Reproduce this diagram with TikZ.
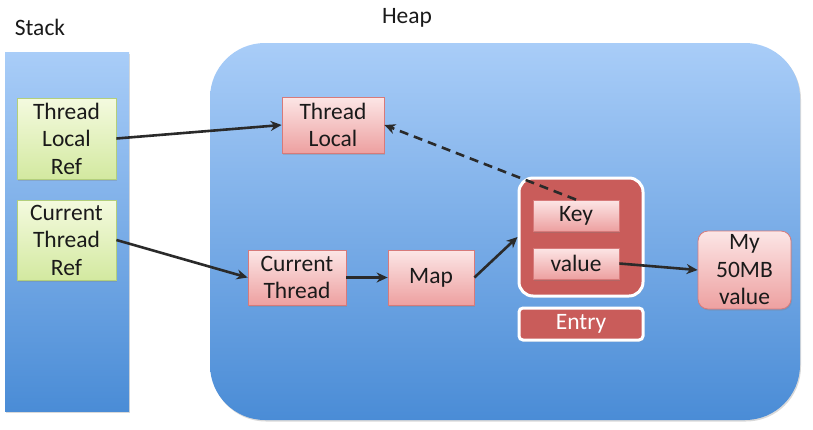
\documentclass[tikz,border=0pt]{standalone}
\usepackage{fontspec}
\setmainfont{Carlito}
\usetikzlibrary{arrows.meta,shadows}
\definecolor{bluetop}{HTML}{A9CDF8}
\definecolor{bluebot}{HTML}{4A8CD6}
\definecolor{greentop}{HTML}{F4FADF}
\definecolor{greenbot}{HTML}{D3E9A0}
\definecolor{greenbd}{HTML}{B3CF7C}
\definecolor{pinktop}{HTML}{FCE6E6}
\definecolor{pinkbot}{HTML}{EDA0A0}
\definecolor{pinkbd}{HTML}{D77A7A}
\definecolor{entryc}{HTML}{C95C5A}
\definecolor{arrowc}{HTML}{2A2A2A}
\definecolor{textc}{HTML}{1A1A1A}
\begin{document}
\begin{tikzpicture}[x=1pt,y=-1pt,
  txt/.style={font=\fontsize{23.5}{27.5}\selectfont, text=textc, align=center, inner sep=0pt},
  shad/.style={drop shadow={shadow xshift=1pt, shadow yshift=-1.5pt, opacity=0.3}},
  bluebox/.style={top color=bluetop, bottom color=bluebot, draw=none, inner sep=0pt},
  greenbox/.style={txt, shad, draw=greenbd, line width=0.8pt, top color=greentop, bottom color=greenbot},
  pinkbox/.style={txt, shad, draw=pinkbd, line width=0.8pt, top color=pinktop, bottom color=pinkbot},
  entrybox/.style={draw=white, line width=3pt, fill=entryc, inner sep=0pt, shad},
  arr/.style={-{Stealth[length=11pt,width=10pt]}, line width=2.6pt, draw=arrowc}]
\useasboundingbox (0,0) rectangle (813,429);
% containers
\node[bluebox, shad, minimum width=124pt, minimum height=359pt] (stack) at (67,231.5) {};
\node[bluebox, shad, rounded corners=55pt, minimum width=590pt, minimum height=377pt] (heap) at (505,231.5) {};
\node[txt] (stacklbl) at (40,27) {Stack};
\node[txt] (heaplbl) at (407,18) {Heap};
% stack refs
\node[greenbox, minimum width=99pt, minimum height=81pt] (tlref) at (66.5,138.5) {Thread\\Local\\Ref};
\node[greenbox, minimum width=99pt, minimum height=80pt] (ctref) at (66.5,240) {Current\\Thread\\Ref};
% heap objects
\node[pinkbox, minimum width=102pt, minimum height=56pt] (tl) at (333,125) {Thread\\Local};
\node[pinkbox, minimum width=98pt, minimum height=55pt] (ct) at (297,277.5) {Current\\Thread};
\node[pinkbox, minimum width=86pt, minimum height=55pt] (map) at (431,277.5) {Map};
\node[entrybox, rounded corners=14pt, minimum width=124pt, minimum height=118pt] (entry) at (581,237) {};
\node[pinkbox, minimum width=86pt, minimum height=31pt] (key) at (576,215.5) {Key};
\node[pinkbox, minimum width=86pt, minimum height=31pt] (value) at (576,263.5) {value};
\node[entrybox, rounded corners=4pt, minimum width=124pt, minimum height=32pt, txt, text=white] (entrylbl) at (581,324) {Entry};
\node[pinkbox, rounded corners=10pt, minimum width=93pt, minimum height=78pt] (my) at (744.5,270) {My\\50MB\\value};
% connectors
\draw[arr] (tlref.east) -- (tl.west);
\draw[arr] (ctref.east) -- (ct.west);
\draw[arr] (ct.east) -- (map.west);
\draw[arr] (map.east) -- (entry.west);
\draw[arr] (value.east) -- (my.west);
\draw[arr, dash pattern=on 9pt off 6pt] (key.north) -- (tl.east);
\end{tikzpicture}
\end{document}
